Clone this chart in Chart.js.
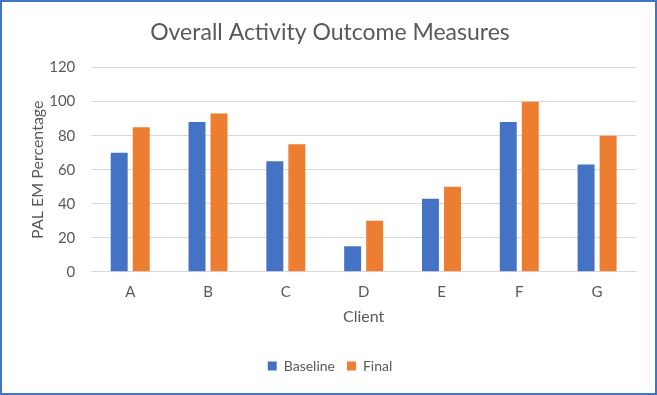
<!DOCTYPE html>
<html>
<head>
<meta charset="utf-8">
<script src="https://cdn.jsdelivr.net/npm/chart.js@4"></script>
<style>
	body { margin: 0; background: #fff; }
	#wrap { width: 657px; height: 395px; box-sizing: border-box; border: 2px solid #4472c4; position: relative; }
	canvas { display: block; }
</style>
</head>
<body>
<div id="wrap"><canvas id="chart" width="653" height="391"></canvas></div>
<script>
// data
const clients = ['A', 'B', 'C', 'D', 'E', 'F', 'G'];
const baseline = [70, 88, 65, 15, 43, 88, 63];
const finalScores = [85, 93, 75, 30, 50, 100, 80];

const textGrey = '#595959';
const font = 'Lato, "Open Sans", sans-serif';

new Chart(document.getElementById('chart'), {
	type: 'bar',
	data: {
		labels: clients,
		datasets: [
			{
				label: 'Baseline',
				data: baseline,
				backgroundColor: '#4472c4',
				categoryPercentage: 0.566,
				barPercentage: 0.77
			},
			{
				label: 'Final',
				data: finalScores,
				backgroundColor: '#ed7d31',
				categoryPercentage: 0.566,
				barPercentage: 0.77
			}
		]
	},
	options: {
		responsive: false,
		animation: false,
		layout: {
			padding: { left: 22, right: 19, top: 8, bottom: 10 }
		},
		plugins: {
			title: {
				display: true,
				text: 'Overall Activity Outcome Measures',
				color: textGrey,
				font: { family: font, size: 23, weight: 'normal' },
				padding: { top: 9, bottom: 21 }
			},
			legend: {
				position: 'bottom',
				labels: {
					color: textGrey,
					font: { family: font, size: 14 },
					boxWidth: 9,
					boxHeight: 9,
					padding: 12
				}
			},
			tooltip: { enabled: false }
		},
		scales: {
			x: {
				grid: { display: false },
				border: { color: '#d9d9d9' },
				ticks: { color: textGrey, font: { family: font, size: 15 }, padding: 3 },
				title: {
					display: true,
					text: 'Client',
					color: textGrey,
					font: { family: font, size: 16 },
					padding: { top: 3, bottom: 21 }
				}
			},
			y: {
				min: 0,
				max: 120,
				grid: { color: '#d9d9d9', drawTicks: false },
				border: { display: false },
				ticks: { stepSize: 20, color: textGrey, font: { family: font, size: 15 }, padding: 16 },
				title: {
					display: true,
					text: 'PAL EM Percentage',
					color: textGrey,
					font: { family: font, size: 16 },
					padding: { top: 4, bottom: -14 }
				}
			}
		}
	}
});
</script>
</body>
</html>
